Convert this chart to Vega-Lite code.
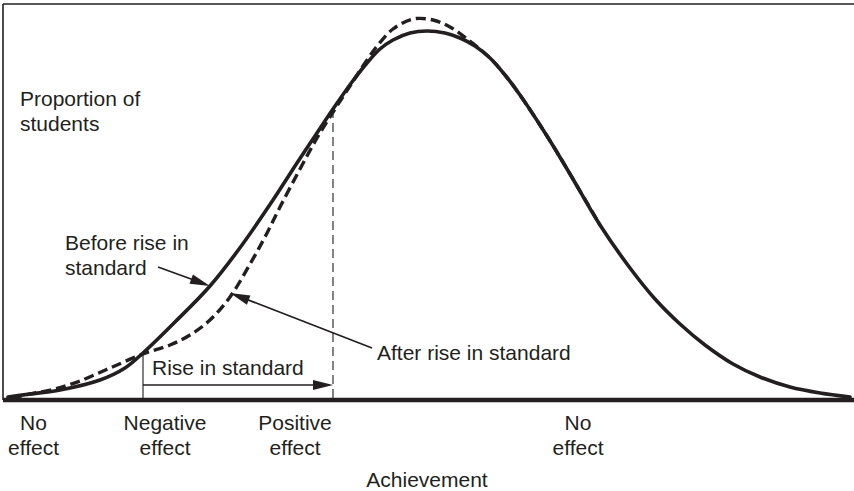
{
  "$schema": "https://vega.github.io/schema/vega-lite/v6.json",
  "width": 854,
  "height": 491,
  "padding": 0,
  "autosize": {"type": "none"},
  "background": "white",
  "config": {"view": {"stroke": null}},
  "datasets": {
    "solid": [
      {"a": 8, "p": 3}, {"a": 30, "p": 6}, {"a": 60, "p": 10}, {"a": 100, "p": 20}, {"a": 125, "p": 32},
      {"a": 143, "p": 47}, {"a": 175, "p": 78}, {"a": 210, "p": 114}, {"a": 242, "p": 155}, {"a": 273, "p": 200},
      {"a": 297, "p": 237}, {"a": 315, "p": 264}, {"a": 333, "p": 291}, {"a": 352, "p": 318}, {"a": 367, "p": 337},
      {"a": 380, "p": 351}, {"a": 393, "p": 360}, {"a": 410, "p": 367}, {"a": 427, "p": 369}, {"a": 445, "p": 367},
      {"a": 460, "p": 362}, {"a": 475, "p": 354}, {"a": 490, "p": 342}, {"a": 505, "p": 325}, {"a": 520, "p": 305},
      {"a": 547, "p": 264}, {"a": 570, "p": 226}, {"a": 600, "p": 175}, {"a": 630, "p": 132}, {"a": 655, "p": 101},
      {"a": 680, "p": 76}, {"a": 705, "p": 55}, {"a": 733, "p": 36}, {"a": 760, "p": 23}, {"a": 790, "p": 13},
      {"a": 820, "p": 7}, {"a": 850, "p": 3}
    ],
    "dashed": [
      {"a": 12, "p": 2}, {"a": 30, "p": 6}, {"a": 55, "p": 11}, {"a": 80, "p": 19}, {"a": 110, "p": 32},
      {"a": 143, "p": 46}, {"a": 170, "p": 55}, {"a": 190, "p": 65}, {"a": 210, "p": 80}, {"a": 230, "p": 103},
      {"a": 250, "p": 136}, {"a": 265, "p": 163}, {"a": 280, "p": 193}, {"a": 300, "p": 231}, {"a": 317, "p": 262},
      {"a": 335, "p": 291}, {"a": 350, "p": 314}, {"a": 365, "p": 337}, {"a": 378, "p": 355}, {"a": 393, "p": 371},
      {"a": 413, "p": 381}, {"a": 433, "p": 380}, {"a": 450, "p": 373}, {"a": 467, "p": 361}, {"a": 490, "p": 342},
      {"a": 505, "p": 325}, {"a": 520, "p": 305}, {"a": 547, "p": 264}, {"a": 570, "p": 226}, {"a": 600, "p": 175}
    ],
    "segs": [
      {"kind": "frame", "a": 3, "p": 396, "a2": 854, "p2": 396},
      {"kind": "frame", "a": 3, "p": 396, "a2": 3, "p2": 0},
      {"kind": "base", "a": 3, "p": 0, "a2": 854, "p2": 0},
      {"kind": "neg", "a": 143, "p": 47, "a2": 143, "p2": 0},
      {"kind": "pos", "a": 333, "p": 291, "a2": 333, "p2": 0},
      {"kind": "arrow", "a": 143, "p": 15, "a2": 322, "p2": 15},
      {"kind": "arrow", "a": 158, "p": 133, "a2": 202, "p2": 117},
      {"kind": "arrow", "a": 372, "p": 52, "a2": 238, "p2": 104}
    ],
    "heads": [
      {"a": 333, "p": 15, "ang": 0},
      {"a": 210, "p": 114, "ang": 20},
      {"a": 230, "p": 107, "ang": 201}
    ],
    "textLeft": [
      {"a": 20, "p": 294, "label": "Proportion of"},
      {"a": 20, "p": 269, "label": "students"},
      {"a": 65, "p": 150, "label": "Before rise in"},
      {"a": 65, "p": 125, "label": "standard"},
      {"a": 377, "p": 40, "label": "After rise in standard"},
      {"a": 152, "p": 25, "label": "Rise in standard"}
    ],
    "textCenter": [
      {"a": 33.5, "p": -30, "label": "No"},
      {"a": 33.5, "p": -55, "label": "effect"},
      {"a": 165, "p": -30, "label": "Negative"},
      {"a": 165, "p": -55, "label": "effect"},
      {"a": 295, "p": -30, "label": "Positive"},
      {"a": 295, "p": -55, "label": "effect"},
      {"a": 578, "p": -30, "label": "No"},
      {"a": 578, "p": -55, "label": "effect"},
      {"a": 427, "p": -87, "label": "Achievement"}
    ]
  },
  "encoding": {
    "x": {"field": "a", "type": "quantitative", "scale": {"domain": [0, 854], "nice": false, "zero": false}, "axis": null},
    "y": {"field": "p", "type": "quantitative", "scale": {"domain": [-91, 400], "nice": false, "zero": false}, "axis": null}
  },
  "layer": [
    {
      "data": {"name": "segs"},
      "transform": [{"filter": "datum.kind === 'frame'"}],
      "mark": {"type": "rule", "color": "#231f20", "strokeWidth": 1.6},
      "encoding": {"x2": {"field": "a2"}, "y2": {"field": "p2"}}
    },
    {
      "data": {"name": "segs"},
      "transform": [{"filter": "datum.kind === 'neg'"}],
      "mark": {"type": "rule", "color": "#58595b", "strokeWidth": 1.5},
      "encoding": {"x2": {"field": "a2"}, "y2": {"field": "p2"}}
    },
    {
      "data": {"name": "segs"},
      "transform": [{"filter": "datum.kind === 'pos'"}],
      "mark": {"type": "rule", "color": "#58595b", "strokeWidth": 1.5, "strokeDash": [9, 5]},
      "encoding": {"x2": {"field": "a2"}, "y2": {"field": "p2"}}
    },
    {
      "data": {"name": "segs"},
      "transform": [{"filter": "datum.kind === 'arrow'"}],
      "mark": {"type": "rule", "color": "#231f20", "strokeWidth": 1.7},
      "encoding": {"x2": {"field": "a2"}, "y2": {"field": "p2"}}
    },
    {
      "data": {"name": "heads"},
      "mark": {"type": "point", "filled": true, "color": "#231f20", "opacity": 1, "strokeWidth": 0, "size": 400, "shape": "M0,0L-2,-0.5L-2,0.5Z"},
      "encoding": {"angle": {"field": "ang", "type": "quantitative", "scale": null}}
    },
    {
      "data": {"name": "solid"},
      "mark": {"type": "line", "color": "#231f20", "strokeWidth": 3.6, "interpolate": "catmull-rom", "strokeCap": "round"}
    },
    {
      "data": {"name": "dashed"},
      "mark": {"type": "line", "color": "#231f20", "strokeWidth": 3.4, "interpolate": "catmull-rom", "strokeDash": [10, 5]}
    },
    {
      "data": {"name": "segs"},
      "transform": [{"filter": "datum.kind === 'base'"}],
      "mark": {"type": "rule", "color": "#231f20", "strokeWidth": 4.5},
      "encoding": {"x2": {"field": "a2"}, "y2": {"field": "p2"}}
    },
    {
      "data": {"name": "textLeft"},
      "mark": {"type": "text", "align": "left", "baseline": "alphabetic", "font": "Liberation Sans", "fontSize": 21, "color": "#231f20"},
      "encoding": {"text": {"field": "label"}}
    },
    {
      "data": {"name": "textCenter"},
      "mark": {"type": "text", "align": "center", "baseline": "alphabetic", "font": "Liberation Sans", "fontSize": 21, "color": "#231f20"},
      "encoding": {"text": {"field": "label"}}
    }
  ]
}
